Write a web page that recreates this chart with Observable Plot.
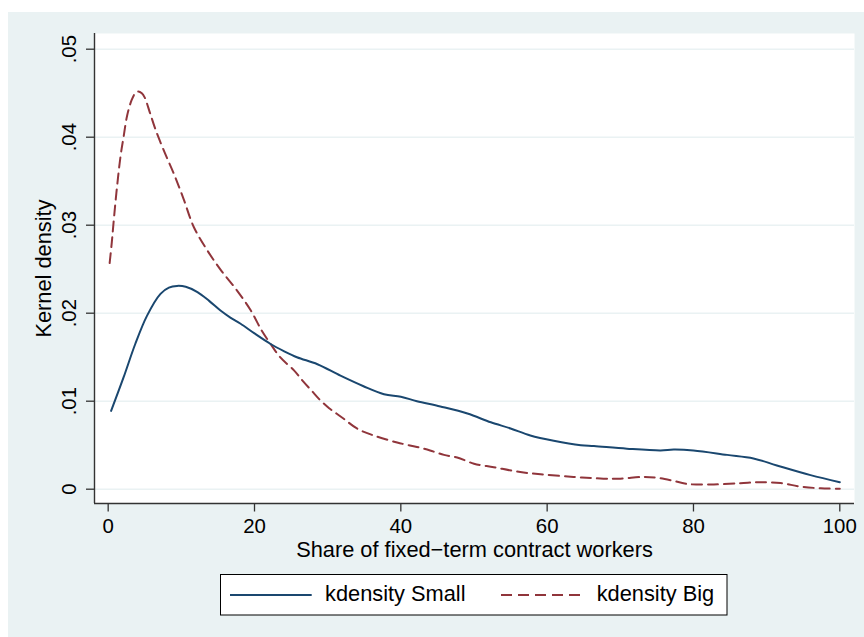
<!DOCTYPE html>
<html>
<head>
<meta charset="utf-8">
<script src="https://cdn.jsdelivr.net/npm/d3@7"></script>
<script src="https://cdn.jsdelivr.net/npm/@observablehq/plot@0.6"></script>
<style>
  html, body { margin: 0; padding: 0; background: #ffffff; }
  #wrap { position: relative; width: 864px; height: 637px; overflow: hidden; font-family: "Liberation Sans", Arial, Helvetica, sans-serif; }
  #bg { position: absolute; left: 8px; top: 12px; width: 856px; height: 625px; background: #EAF2F3; }
  #chart { position: absolute; left: 0; top: 0; }
  #legend { position: absolute; left: 0; top: 0; }
</style>
</head>
<body>
<div id="wrap"><div id="bg"></div><div id="chart"></div><svg id="legend" width="864" height="637"></svg></div>
<script>
// ---- data ----
const smallX = [0.4, 2.1, 3.7, 5.3, 7.15, 8.3, 9.4, 10.6, 12.2, 13.8, 15.35, 16.7, 18.1, 20, 22.2, 24, 25.8, 28.6, 31.75, 34.9, 37.7, 40, 42.2, 45.4, 49.1, 52.3, 55, 57.7, 60.9, 64.6, 66.4, 70.9, 75.5, 77.3, 80, 84.6, 88.2, 91.4, 96, 100];
const smallY = [0.0089, 0.0127, 0.0165, 0.0197, 0.0222, 0.0229, 0.0231, 0.0230, 0.0224, 0.0214, 0.0203, 0.0195, 0.0188, 0.0177, 0.0165, 0.0157, 0.0150, 0.0142, 0.0129, 0.0117, 0.0108, 0.0105, 0.0100, 0.0094, 0.0086, 0.0076, 0.0069, 0.0061, 0.0055, 0.0050, 0.0049, 0.0046, 0.0044, 0.0045, 0.0044, 0.0039, 0.0035, 0.0027, 0.0016, 0.0008];

const bigX = [0.2, 0.5, 0.8, 1.2, 1.7, 2.1, 2.6, 3.2, 3.7, 4.1, 4.6, 5.0, 5.7, 6.5, 7.7, 9.0, 10.3, 11.7, 13.5, 15.4, 17.5, 19.5, 21, 22.2, 23.5, 25.4, 26.5, 27.8, 29, 30.2, 31.2, 32.2, 34, 36.3, 39.5, 42.2, 44, 45.9, 47.7, 50, 52.7, 55.9, 59.1, 63.6, 67.7, 70, 73.2, 75, 77, 79.1, 82.3, 86.4, 89.1, 91.9, 94.6, 97.4, 100];
const bigY = [0.0257, 0.0281, 0.0309, 0.0343, 0.0379, 0.0400, 0.0425, 0.0442, 0.0450, 0.0452, 0.0450, 0.0445, 0.0428, 0.0408, 0.0383, 0.0358, 0.0330, 0.0298, 0.0272, 0.0249, 0.0227, 0.0203, 0.0180, 0.0165, 0.0150, 0.0135, 0.0124, 0.0112, 0.0101, 0.0092, 0.0086, 0.0080, 0.0069, 0.0061, 0.0053, 0.0048, 0.0044, 0.0039, 0.0036, 0.0029, 0.0025, 0.0020, 0.0017, 0.0014, 0.0012, 0.0012, 0.0014, 0.0013, 0.0010, 0.0006, 0.00053, 0.00068, 0.0008, 0.0007, 0.0003, 0.0001, 0.00005];

const xTicks = [0, 20, 40, 60, 80, 100];
const yTicks = [0, 0.01, 0.02, 0.03, 0.04, 0.05];
const yTickLabels = ["0", ".01", ".02", ".03", ".04", ".05"];
const seriesNames = ["kdensity Small", "kdensity Big"];
const xTitle = "Share of fixed\u2212term contract workers";
const yTitle = "Kernel density";

// ---- build ----
const navy = "#1a476f", maroon = "#90353b";
const small = smallX.map((x, i) => ({x, y: smallY[i]}));
const big = bigX.map((x, i) => ({x, y: bigY[i]}));
const yTickData = yTicks.map((v, i) => ({v, label: yTickLabels[i]}));
const xDomain = [-1.87, 102.01];
const yDomain = [-0.001625, 0.051784];

const chart = Plot.plot({
  width: 864,
  height: 637,
  marginLeft: 94,
  marginRight: 10,
  marginTop: 33,
  marginBottom: 134,
  style: {background: "transparent", fontFamily: "'Liberation Sans', Arial, sans-serif", fontSize: "20.4px", color: "#000"},
  x: {domain: xDomain},
  y: {domain: yDomain},
  marks: [
    Plot.frame({fill: "#ffffff", stroke: null}),
    Plot.gridY(yTicks, {stroke: "#EAF2F3", strokeOpacity: 1, strokeWidth: 1.6}),
    Plot.line(big, {x: "x", y: "y", stroke: maroon, strokeWidth: 2, strokeDasharray: "10,6", curve: "catmull-rom"}),
    Plot.line(small, {x: "x", y: "y", stroke: navy, strokeWidth: 2, curve: "catmull-rom"}),
    Plot.ruleX([xDomain[0]], {stroke: "#333", strokeWidth: 1.4}),
    Plot.ruleY([yDomain[0]], {stroke: "#333", strokeWidth: 1.4}),
    Plot.axisX({ticks: xTicks, tickSize: 8.5, tickPadding: 6.5, stroke: "#333", strokeWidth: 1.3, fontSize: 20.4, fill: "#000", label: null}),
    Plot.axisY({ticks: yTicks, tickSize: 8, tickFormat: () => "", stroke: "#333", strokeWidth: 1.3, label: null}),
    Plot.text(yTickData, {y: "v", text: "label", frameAnchor: "left", dx: -19, rotate: -90, textAnchor: "middle", lineAnchor: "bottom", fontSize: 20.4, fill: "#000"}),
    Plot.text([yTitle], {text: d => d, frameAnchor: "left", dx: -43.5, rotate: -90, textAnchor: "middle", lineAnchor: "bottom", fontSize: 21.8, fill: "#000"}),
    Plot.text([xTitle], {text: d => d, frameAnchor: "bottom", dy: 53, textAnchor: "middle", lineAnchor: "bottom", fontSize: 21.8, fill: "#000"})
  ]
});
document.getElementById("chart").appendChild(chart);

// ---- legend ----
const lg = d3.select("#legend");
lg.append("rect").attr("x", 220.5).attr("y", 574.5).attr("width", 506.5).attr("height", 40.5)
  .attr("fill", "#fff").attr("stroke", "#000").attr("stroke-width", 1);
lg.append("line").attr("x1", 230).attr("x2", 311.7).attr("y1", 595).attr("y2", 595)
  .attr("stroke", navy).attr("stroke-width", 2);
lg.append("text").attr("x", 325).attr("y", 601).text(seriesNames[0])
  .attr("font-size", 21.8).attr("font-family", "'Liberation Sans', Arial, sans-serif").attr("fill", "#000");
lg.append("line").attr("x1", 501).attr("x2", 583.3).attr("y1", 595).attr("y2", 595)
  .attr("stroke", maroon).attr("stroke-width", 2).attr("stroke-dasharray", "11,6");
lg.append("text").attr("x", 596.7).attr("y", 601).text(seriesNames[1])
  .attr("font-size", 21.8).attr("font-family", "'Liberation Sans', Arial, sans-serif").attr("fill", "#000");
</script>
</body>
</html>
